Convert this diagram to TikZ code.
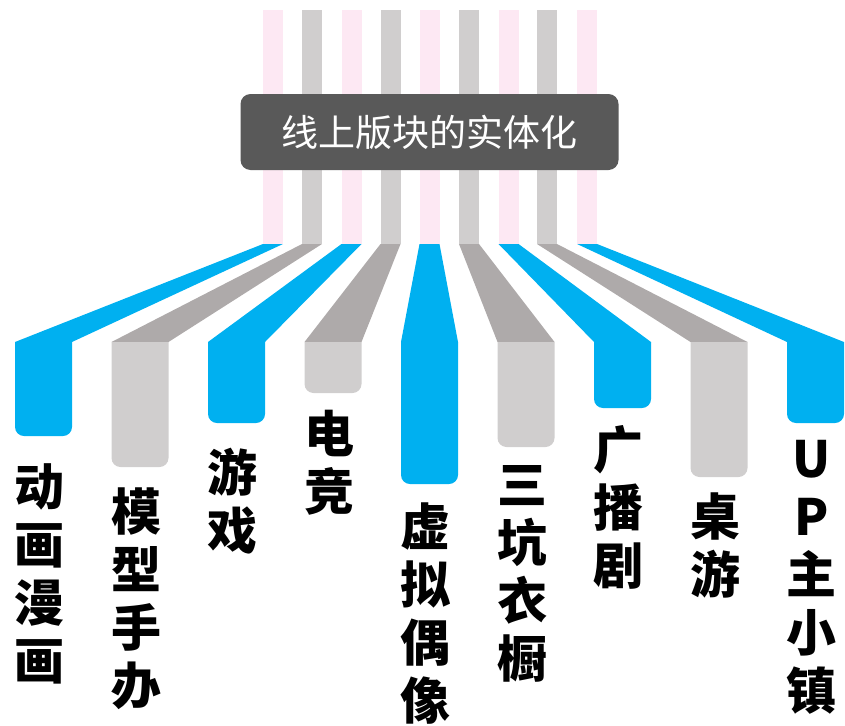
\documentclass[tikz,border=0pt]{standalone}
\usepackage{fontspec}
\newfontfamily\cjk{Noto Sans CJK SC}
\usepackage{xcolor}
\usepackage{tikz}
\usetikzlibrary{positioning}
\definecolor{sky}{HTML}{00B0F0}
\definecolor{bargray}{HTML}{D0CECE}
\definecolor{bandgray}{HTML}{AEAAAA}
\definecolor{blush}{HTML}{FDE8F3}
\definecolor{slate}{HTML}{595959}

\begin{document}
\begin{tikzpicture}[x=1pt, y=-1pt,
    pinkstripe/.style={fill=blush},
    graystripe/.style={fill=bargray},
    blueband/.style={fill=sky},
    grayband/.style={fill=bandgray},
    bluebar/.style={fill=sky},
    graybar/.style={fill=bargray},
    lbl/.style={align=center, inner sep=0pt, xshift=-4pt,
                font={\cjk\bfseries\fontsize{50}{58}\selectfont}},
    titlebox/.style={fill=slate, rounded corners=10pt, minimum width=378pt,
                     minimum height=76pt, text=white, inner sep=0pt,
                     font={\cjk\fontsize{37}{40}\selectfont}}]
  \useasboundingbox (0,0) rectangle (845,725);
  % upper stripes
  \fill[pinkstripe] (263,10) rectangle (283,244);
  \fill[graystripe] (302,10) rectangle (322,244);
  \fill[pinkstripe] (341.5,10) rectangle (361.5,244);
  \fill[graystripe] (380.5,10) rectangle (400.5,244);
  \fill[pinkstripe] (419.5,10) rectangle (439.5,244);
  \fill[graystripe] (459,10) rectangle (479,244);
  \fill[pinkstripe] (498.5,10) rectangle (518.5,244);
  \fill[graystripe] (537,10) rectangle (557,244);
  \fill[pinkstripe] (577,10) rectangle (597,244);
  \node[titlebox] (title) at (429.5,132) {线上版块的实体化};
  % slanted bands
  \fill[blueband] (263,244) -- (283,244) -- (72,342) -- (15,342) -- cycle;
  \fill[grayband] (302,244) -- (322,244) -- (168.5,342) -- (111.5,342) -- cycle;
  \fill[blueband] (341.5,244) -- (361.5,244) -- (265,342) -- (208,342) -- cycle;
  \fill[grayband] (380.5,244) -- (400.5,244) -- (361.5,342) -- (304.5,342) -- cycle;
  \fill[blueband] (419.5,244) -- (439.5,244) -- (458,342) -- (401,342) -- cycle;
  \fill[grayband] (459,244) -- (479,244) -- (554.5,342) -- (497.5,342) -- cycle;
  \fill[blueband] (498.5,244) -- (518.5,244) -- (651,342) -- (594,342) -- cycle;
  \fill[grayband] (537,244) -- (557,244) -- (747.5,342) -- (690.5,342) -- cycle;
  \fill[blueband] (577,244) -- (597,244) -- (844,342) -- (787,342) -- cycle;
  % bars
  \fill[bluebar] (15,342) [rounded corners=9pt] -- (15,436) -- (72,436) [sharp corners] -- (72,342) -- cycle;
  \fill[graybar] (111.5,342) [rounded corners=9pt] -- (111.5,467) -- (168.5,467) [sharp corners] -- (168.5,342) -- cycle;
  \fill[bluebar] (208,342) [rounded corners=9pt] -- (208,423) -- (265,423) [sharp corners] -- (265,342) -- cycle;
  \fill[graybar] (304.5,342) [rounded corners=9pt] -- (304.5,393) -- (361.5,393) [sharp corners] -- (361.5,342) -- cycle;
  \fill[bluebar] (401,342) [rounded corners=9pt] -- (401,484) -- (458,484) [sharp corners] -- (458,342) -- cycle;
  \fill[graybar] (497.5,342) [rounded corners=9pt] -- (497.5,447) -- (554.5,447) [sharp corners] -- (554.5,342) -- cycle;
  \fill[bluebar] (594,342) [rounded corners=9pt] -- (594,408) -- (651,408) [sharp corners] -- (651,342) -- cycle;
  \fill[graybar] (690.5,342) [rounded corners=9pt] -- (690.5,477) -- (747.5,477) [sharp corners] -- (747.5,342) -- cycle;
  \fill[bluebar] (787,342) [rounded corners=9pt] -- (787,423) -- (844,423) [sharp corners] -- (844,342) -- cycle;
  \coordinate (b1) at (43.5,436);
  \coordinate (b2) at (140,467);
  \coordinate (b3) at (236.5,423);
  \coordinate (b4) at (333,393);
  \coordinate (b5) at (429.5,484);
  \coordinate (b6) at (526,447);
  \coordinate (b7) at (622.5,408);
  \coordinate (b8) at (719,477);
  \coordinate (b9) at (815.5,423);
  % labels
  \node[lbl, below=27pt of b1] (anime) {动\\画\\漫\\画};
  \node[lbl, below=21pt of b2] (figure) {模\\型\\手\\办};
  \node[lbl, below=25pt of b3] (game) {游\\戏};
  \node[lbl, below=17pt of b4] (esport) {电\\竞};
  \node[lbl, below=19pt of b5] (vtuber) {虚\\拟\\偶\\像};
  \node[lbl, below=18pt of b6] (wardrobe) {三\\坑\\衣\\橱};
  \node[lbl, below=17pt of b7] (drama) {广\\播\\剧};
  \node[lbl, below=16pt of b8] (board) {桌\\游};
  \node[lbl, below=17pt of b9] (uptown) {U\\P\\主\\小\\镇};
\end{tikzpicture}
\end{document}
